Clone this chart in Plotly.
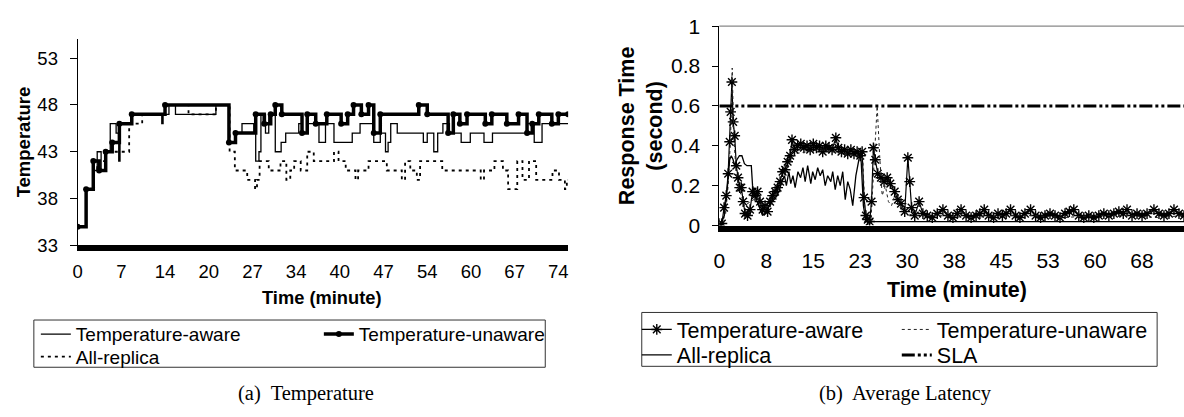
import plotly.graph_objects as go

FONT = "Arial, Liberation Sans, sans-serif"
SERIF = "Times New Roman, Liberation Serif, serif"

# ---------------- (a) Temperature ----------------
temp_tick_labels = ["0", "7", "14", "20", "27", "34", "40", "47", "54", "60", "67", "74"]
temp_tick_step = 6.7
temp_y_ticks = [33, 38, 43, 48, 53]

# Temperature-aware (step changes: minute, temperature)
ta_t = [0, 1.3, 2.4, 3.0, 3.6, 4.2, 5.0, 5.9, 6.3, 6.5, 8.2, 12.9, 13.1, 14.0, 15.0, 21.2,
        23.2, 24.2, 25.2, 27.0, 27.3, 27.8, 28.1, 28.8, 29.3, 30.3, 31.2, 31.9, 33.9, 34.4,
        35.2, 37.0, 38.0, 39.3, 42.1, 43.3, 45.4, 46.4, 47.2, 47.6, 48.0, 49.0, 53.0, 53.6,
        54.6, 55.2, 56.0, 57.0, 58.8, 60.2, 62.3, 63.6, 68.9, 70.0, 71.2, 75.2]
ta_v = [35, 39, 41, 43, 41, 43, 46, 45, 42, 46, 47, 46, 47, 48, 47, 48,
        44, 45, 46, 45, 42, 43, 47, 45, 47, 43, 44, 45, 46, 45,
        46, 44, 46, 44, 45, 46, 44, 45, 43, 44, 46, 45, 44, 45,
        43, 45, 46, 45, 44, 45, 44, 45, 46, 44, 46, 46]

# Temperature-unaware
tu_t = [0, 1.3, 2.4, 3.3, 4.3, 5.3, 6.4, 8.3, 13.4, 23.2, 24.2, 27.3, 28.6, 29.6, 30.3,
        31.3, 34.4, 35.2, 36.5, 38.2, 40.4, 41.4, 42.3, 43.5, 44.6, 45.4, 46.4, 52.3,
        53.6, 56.8, 57.6, 58.6, 59.7, 62.5, 63.5, 65.8, 67.6, 68.9, 69.7, 70.7, 72.7,
        73.7, 75.2]
tu_v = [35, 39, 42, 41, 43, 44, 46, 47, 48, 44, 45, 47, 46, 47, 48,
        47, 45, 47, 46, 47, 46, 47, 48, 47, 48, 45, 47, 48,
        47, 45, 47, 46, 47, 46, 47, 46, 47, 45, 46, 47, 46,
        47, 47]

# All-replica
ar_t = [0, 1.3, 2.4, 3.0, 4.3, 7.9, 9.9, 13.4, 17.0, 21.2, 23.3, 24.1, 26.0, 27.2, 27.5,
        27.9, 29.3, 31.1, 32.0, 32.6, 33.2, 34.2, 35.2, 36.2, 39.3, 40.0, 41.1, 42.6,
        43.0, 44.6, 47.4, 49.7, 50.2, 51.0, 52.0, 52.5, 55.9, 61.8, 62.3, 63.9, 65.2,
        66.0, 67.4, 68.2, 69.2, 70.3, 72.8, 73.8, 74.7, 75.0, 75.2]
ar_v = [35, 39, 41, 42, 43, 46, 47, 48, 47, 48, 43, 41, 40, 39, 40,
        42, 41, 42, 40, 41, 42, 41, 43, 42, 43, 42, 41, 40,
        41, 42, 41, 40, 42, 41, 40, 42, 41, 40, 41, 42, 41,
        39, 42, 40, 42, 40, 41, 40, 39, 40, 40]

# ---------------- (b) Average Latency ----------------
lat_tick_labels = ["0", "8", "15", "23", "30", "38", "45", "53", "60", "68"]
lat_tick_step = 7.5
lat_y_ticks = [0, 0.2, 0.4, 0.6, 0.8, 1]
lat_y_labels = ["0", "0.2", "0.4", "0.6", "0.8", "1"]

la_t = [0.0, 0.4, 0.75, 1.1, 1.4, 1.65, 1.8, 2.0, 2.2, 2.45, 2.7, 2.98, 3.25, 3.5, 3.8,
        4.1, 4.5, 4.9, 5.3, 5.7, 6.1, 6.5, 6.9, 7.3, 7.7, 8.1, 8.5, 8.9, 9.3, 9.7, 10.1,
        10.5, 10.9, 11.3, 11.6, 12.0, 12.5, 13.0, 13.5, 14.0, 14.5, 15.0, 15.5, 16.0,
        16.5, 17.0, 17.5, 18.0, 18.6, 19.0, 19.5, 20.0, 20.5, 21.0, 21.5, 22.0, 22.5,
        22.8, 23.1, 23.4, 23.7, 24.0, 24.3, 24.6, 24.9, 25.3, 25.8, 26.3, 26.8, 27.3,
        28.0, 28.5, 29.0, 29.6, 30.1, 30.4, 30.7, 31.2, 31.9, 32.5, 33.2, 34.0, 34.8,
        35.7, 36.5, 37.3, 38.0, 38.6, 39.4, 40.2, 41.0, 41.6, 42.3, 43.0, 43.8, 44.5,
        45.2, 45.8, 46.5, 47.3, 48.0, 48.8, 49.7, 50.5, 51.3, 52.0, 52.8, 53.6, 54.4,
        55.2, 55.9, 56.6, 57.4, 58.2, 59.0, 59.8, 60.6, 61.4, 62.2, 63.0, 63.8, 64.5,
        65.1, 65.9, 66.7, 67.5, 68.3, 69.4, 70.2, 71.0, 71.8, 72.6, 73.4, 74.2]
la_v = [0.01, 0.01, 0.09, 0.15, 0.26, 0.42, 0.57, 0.72, 0.52, 0.45, 0.30, 0.24, 0.19, 0.19, 0.12,
        0.06, 0.05, 0.08, 0.17, 0.15, 0.17, 0.12, 0.08, 0.10, 0.07, 0.12, 0.15, 0.17, 0.19, 0.22, 0.27,
        0.28, 0.32, 0.35, 0.43, 0.38, 0.40, 0.41, 0.39, 0.40, 0.38, 0.41, 0.39, 0.40,
        0.37, 0.40, 0.39, 0.38, 0.44, 0.39, 0.37, 0.38, 0.36, 0.38, 0.36, 0.37, 0.35,
        0.37, 0.14, 0.05, 0.03, 0.02, 0.12, 0.39, 0.33, 0.26, 0.24, 0.22, 0.24, 0.21,
        0.17, 0.13, 0.11, 0.07, 0.34, 0.22, 0.09, 0.05, 0.12, 0.06, 0.05, 0.04, 0.06,
        0.08, 0.05, 0.04, 0.06, 0.08, 0.05, 0.04, 0.05, 0.06, 0.08, 0.05, 0.04, 0.06,
        0.05, 0.06, 0.08, 0.05, 0.04, 0.06, 0.08, 0.05, 0.04, 0.05, 0.06, 0.05, 0.04,
        0.06, 0.07, 0.08, 0.05, 0.04, 0.05, 0.04, 0.05, 0.06, 0.05, 0.06, 0.07, 0.06,
        0.08, 0.05, 0.06, 0.05, 0.06, 0.08, 0.06, 0.05, 0.06, 0.08, 0.06, 0.05]

lu_t = [0.0, 0.5, 1.0, 1.4, 1.8, 2.05, 2.3, 2.6, 3.0, 3.5, 4.0, 5.0, 6.0, 7.0, 8.0, 9.0,
        10.0, 11.0, 12.0, 14.0, 16.0, 18.0, 20.0, 22.0, 22.9, 23.3, 24.2, 25.2, 25.6,
        26.0, 26.5, 27.0, 27.5, 28.0, 29.0, 30.0, 31.0, 35.0, 40.0, 45.0, 50.0, 55.0,
        60.0, 65.0, 70.0, 74.2]
lu_v = [0.01, 0.02, 0.06, 0.20, 0.45, 0.79, 0.45, 0.30, 0.20, 0.15, 0.10, 0.12, 0.14, 0.10, 0.09, 0.15,
        0.22, 0.30, 0.36, 0.37, 0.38, 0.37, 0.36, 0.35, 0.34, 0.03, 0.02, 0.60, 0.35,
        0.15, 0.20, 0.12, 0.10, 0.15, 0.08, 0.06, 0.05, 0.05, 0.04, 0.05, 0.05, 0.04,
        0.05, 0.05, 0.04, 0.05]

lr_t = [0.0, 0.8, 1.3, 1.65, 1.9, 2.2, 2.45, 2.8, 3.2, 3.6, 4.0, 4.4, 4.8, 5.1, 5.3, 5.8,
        6.4, 6.9, 7.4, 8.2, 9.0, 9.5, 10.0, 10.4, 10.7, 11.1, 11.4, 11.75, 12.1, 12.55,
        12.97, 13.35, 13.7, 14.1, 14.6, 14.9, 15.3, 15.7, 16.1, 16.5, 16.9, 17.3, 17.8,
        18.1, 18.5, 18.9, 19.3, 19.7, 20.1, 20.5, 20.9, 21.3, 21.8, 22.4, 22.6, 23.0,
        23.4, 30.0, 40.0, 50.0, 60.0, 74.2]
lr_v = [0.0, 0.05, 0.20, 0.33, 0.35, 0.33, 0.30, 0.33, 0.35, 0.35, 0.31, 0.30, 0.30, 0.30, 0.20, 0.14,
        0.09, 0.05, 0.07, 0.11, 0.14, 0.17, 0.22, 0.25, 0.20, 0.27, 0.21, 0.25, 0.19, 0.27,
        0.24, 0.29, 0.22, 0.30, 0.21, 0.27, 0.23, 0.29, 0.25, 0.28, 0.20, 0.25, 0.22,
        0.27, 0.18, 0.25, 0.20, 0.27, 0.13, 0.22, 0.18, 0.10, 0.25, 0.35, 0.35, 0.10,
        0.02, 0.02, 0.02, 0.02, 0.02, 0.02]

sla_value = 0.6
lat_x_end = 74.2
temp_x_end = 75.2

W, H = 1184, 417


def px(x):
    return x / W


def py(y):
    return 1 - y / H


fig = go.Figure()

# ----- left chart traces -----
fig.add_trace(go.Scatter(x=ta_t, y=ta_v, mode="lines", line_shape="hv",
                         line=dict(color="black", width=1.3),
                         name="Temperature-aware", legend="legend",
                         xaxis="x", yaxis="y"))
fig.add_trace(go.Scatter(x=tu_t, y=tu_v, mode="lines+markers", line_shape="hv",
                         line=dict(color="black", width=3.5),
                         marker=dict(symbol="circle", size=6, color="black"),
                         name="Temperature-unaware", legend="legend",
                         xaxis="x", yaxis="y"))
fig.add_trace(go.Scatter(x=ar_t, y=ar_v, mode="lines", line_shape="hv",
                         line=dict(color="black", width=1.8, dash="3px,4px"),
                         name="All-replica", legend="legend2",
                         xaxis="x", yaxis="y"))

# ----- right chart traces -----
fig.add_trace(go.Scatter(x=la_t, y=la_v, mode="lines+markers",
                         line=dict(color="black", width=1.2),
                         marker=dict(symbol="asterisk-open", size=9,
                                     line=dict(color="black", width=1.4)),
                         name="Temperature-aware", legend="legend3",
                         xaxis="x2", yaxis="y2"))
fig.add_trace(go.Scatter(x=lu_t, y=lu_v, mode="lines",
                         line=dict(color="#222222", width=1, dash="dot"),
                         name="Temperature-unaware", legend="legend3",
                         xaxis="x2", yaxis="y2"))
fig.add_trace(go.Scatter(x=lr_t, y=lr_v, mode="lines",
                         line=dict(color="black", width=1.3),
                         name="All-replica", legend="legend4",
                         xaxis="x2", yaxis="y2"))
fig.add_trace(go.Scatter(x=[0, lat_x_end], y=[sla_value, sla_value], mode="lines",
                         line=dict(color="black", width=3,
                                   dash="13px,3px,3px,3px,3px,3px"),
                         name="SLA", legend="legend4",
                         xaxis="x2", yaxis="y2"))


def legend_cfg(x, y, size, entrywidth):
    return dict(x=x, y=y, xanchor="left", yanchor="middle", orientation="h",
                bgcolor="rgba(0,0,0,0)", borderwidth=0,
                font=dict(family=FONT, size=size, color="black"),
                entrywidth=entrywidth, entrywidthmode="pixels",
                itemwidth=30, traceorder="normal")


axis_common = dict(showgrid=False, zeroline=False, color="black")

fig.update_layout(
    width=W, height=H, margin=dict(l=0, r=0, t=0, b=0),
    paper_bgcolor="white", plot_bgcolor="white",
    font=dict(family=FONT, color="black"),
    xaxis=dict(domain=[px(72), px(565)], range=[0, temp_x_end],
               tickmode="array",
               tickvals=[i * temp_tick_step for i in range(len(temp_tick_labels))],
               ticktext=temp_tick_labels, ticks="", ticklabelstandoff=4,
               showline=True, linewidth=6, linecolor="black",
               tickfont=dict(size=18.5), anchor="y", **axis_common),
    yaxis=dict(domain=[py(247), py(29)], range=[33, 55],
               tickmode="array", tickvals=temp_y_ticks,
               ticks="outside", ticklen=7, tickwidth=1, tickcolor="black",
               ticklabelstandoff=8,
               showline=True, linewidth=1, linecolor="black",
               tickfont=dict(size=18.5), anchor="x", **axis_common),
    xaxis2=dict(domain=[px(717), 1.0], range=[0, lat_x_end],
                tickmode="array",
                tickvals=[i * lat_tick_step for i in range(len(lat_tick_labels))],
                ticktext=lat_tick_labels, ticks="", ticklabelstandoff=11,
                showline=True, linewidth=6, linecolor="black",
                tickfont=dict(size=21), anchor="y2", **axis_common),
    yaxis2=dict(domain=[py(226), py(15)], range=[0, 1],
                tickmode="array", tickvals=lat_y_ticks, ticktext=lat_y_labels,
                ticks="outside", ticklen=6, tickwidth=1, tickcolor="black",
                ticklabelstandoff=8,
                showline=True, linewidth=1, linecolor="black",
                tickfont=dict(size=21), anchor="x2", **axis_common),
    legend=legend_cfg(px(30), py(341), 19, 238),
    legend2=legend_cfg(px(30), py(365), 19, 238),
    legend3=legend_cfg(px(634), py(336), 21.5, 215),
    legend4=legend_cfg(px(634), py(363), 21.5, 215),
    showlegend=True,
)

# legend frames and top border of right chart
fig.add_shape(type="rect", xref="paper", yref="paper",
              x0=px(28), x1=px(542), y0=py(376), y1=py(326),
              line=dict(color="#333333", width=1))
fig.add_shape(type="rect", xref="paper", yref="paper",
              x0=px(639), x1=px(1157), y0=py(375), y1=py(318),
              line=dict(color="#333333", width=1))
fig.add_shape(type="line", xref="x2 domain", yref="y2 domain",
              x0=0, x1=1, y0=1, y1=1, line=dict(color="#888888", width=1.2))

annotations = [
    dict(text="<b>Temperature</b>", x=px(18), y=py(137), textangle=-90,
         font=dict(family=FONT, size=18.5)),
    dict(text="<b>Time (minute)</b>", x=px(318), y=py(302),
         font=dict(family=FONT, size=18.3)),
    dict(text="(a)\u00a0 Temperature", x=px(302), y=py(404),
         font=dict(family=SERIF, size=20.5)),
    dict(text="<b>Response Time</b><br><b>(second)</b>", x=px(639), y=py(120),
         textangle=-90, font=dict(family=FONT, size=21.5)),
    dict(text="<b>Time (minute)</b>", x=px(956), y=py(294),
         font=dict(family=FONT, size=21.4)),
    dict(text="(b)\u00a0 Average Latency", x=px(904), y=py(404),
         font=dict(family=SERIF, size=20.5)),
]
for a in annotations:
    fig.add_annotation(xref="paper", yref="paper", showarrow=False,
                       xanchor="center", yanchor="middle", **a)

fig.write_html("out.html")
